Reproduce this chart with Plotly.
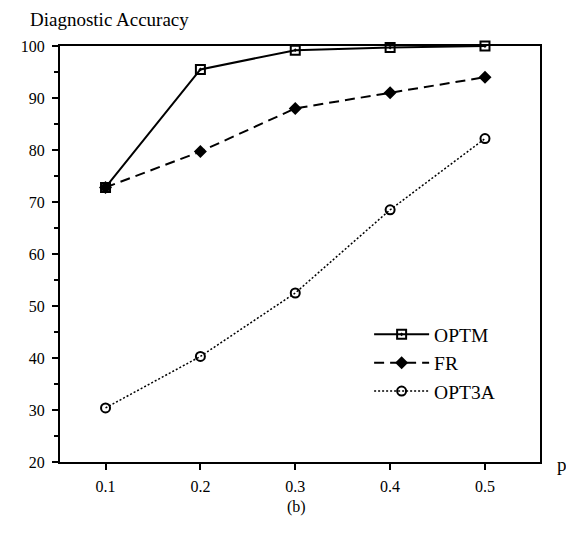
import plotly.graph_objects as go

p_values = [0.1, 0.2, 0.3, 0.4, 0.5]
optm = [72.8, 95.5, 99.2, 99.7, 100.0]
fr = [72.8, 79.7, 88.0, 91.0, 94.0]
opt3a = [30.4, 40.3, 52.5, 68.5, 82.2]
x_ticks = [0.1, 0.2, 0.3, 0.4, 0.5]
x_tick_labels = ["0.1", "0.2", "0.3", "0.4", "0.5"]
y_ticks = [20, 30, 40, 50, 60, 70, 80, 90, 100]

FONT = "Liberation Serif, Times New Roman, serif"

fig = go.Figure()
fig.add_trace(go.Scatter(
    x=p_values, y=optm, name="OPTM", mode="lines+markers",
    line=dict(color="black", width=2, dash="solid"),
    marker=dict(symbol="square-open-dot", size=9, color="black", line=dict(width=2, color="black")),
    cliponaxis=False))
fig.add_trace(go.Scatter(
    x=p_values, y=fr, name="FR", mode="lines+markers",
    line=dict(color="black", width=2, dash="10px,6px"),
    marker=dict(symbol="diamond", size=10, color="black"),
    cliponaxis=False))
fig.add_trace(go.Scatter(
    x=p_values, y=opt3a, name="OPT3A", mode="lines+markers",
    line=dict(color="black", width=1.5, dash="2px,2px"),
    marker=dict(symbol="circle-open", size=9, color="black", line=dict(width=2, color="black")),
    cliponaxis=False))

fig.update_layout(
    width=558, height=519,
    margin=dict(l=52, r=26, t=38, b=65),
    paper_bgcolor="white", plot_bgcolor="white",
    font=dict(family=FONT, size=16, color="black"),
    showlegend=True,
    legend=dict(x=0.644, y=0.353, xanchor="left", yanchor="top",
                bgcolor="rgba(0,0,0,0)", font=dict(family=FONT, size=19.5),
                tracegroupgap=0, itemwidth=55),
    xaxis=dict(range=[0.052, 0.558], tickvals=x_ticks, ticktext=x_tick_labels,
               showgrid=False, zeroline=False, showline=True, linecolor="black",
               linewidth=2, mirror=True, ticks="outside", ticklen=6, tickwidth=2,
               tickcolor="black", tickfont=dict(family=FONT, size=16),
               ticklabelstandoff=3),
    yaxis=dict(range=[20, 100], tickvals=y_ticks,
               showgrid=False, zeroline=False, showline=True, linecolor="black",
               linewidth=2, mirror=True, ticks="outside", ticklen=6, tickwidth=1.5,
               tickcolor="black", tickfont=dict(family=FONT, size=16),
               ticklabelstandoff=4,
               minor=dict(dtick=5, ticks="outside", ticklen=4, tickcolor="black", showgrid=False)),
    annotations=[
        dict(text="Diagnostic Accuracy", xref="paper", yref="paper", x=-0.067, y=1.063,
             xanchor="left", yanchor="middle", showarrow=False, font=dict(family=FONT, size=19)),
        dict(text="p", xref="paper", yref="paper", x=1.031, y=-0.007,
             xanchor="left", yanchor="middle", showarrow=False, font=dict(family=FONT, size=19)),
        dict(text="(b)", xref="paper", yref="paper", x=0.492, y=-0.108,
             xanchor="center", yanchor="middle", showarrow=False, font=dict(family=FONT, size=16)),
    ],
)

fig.write_html("out.html")
